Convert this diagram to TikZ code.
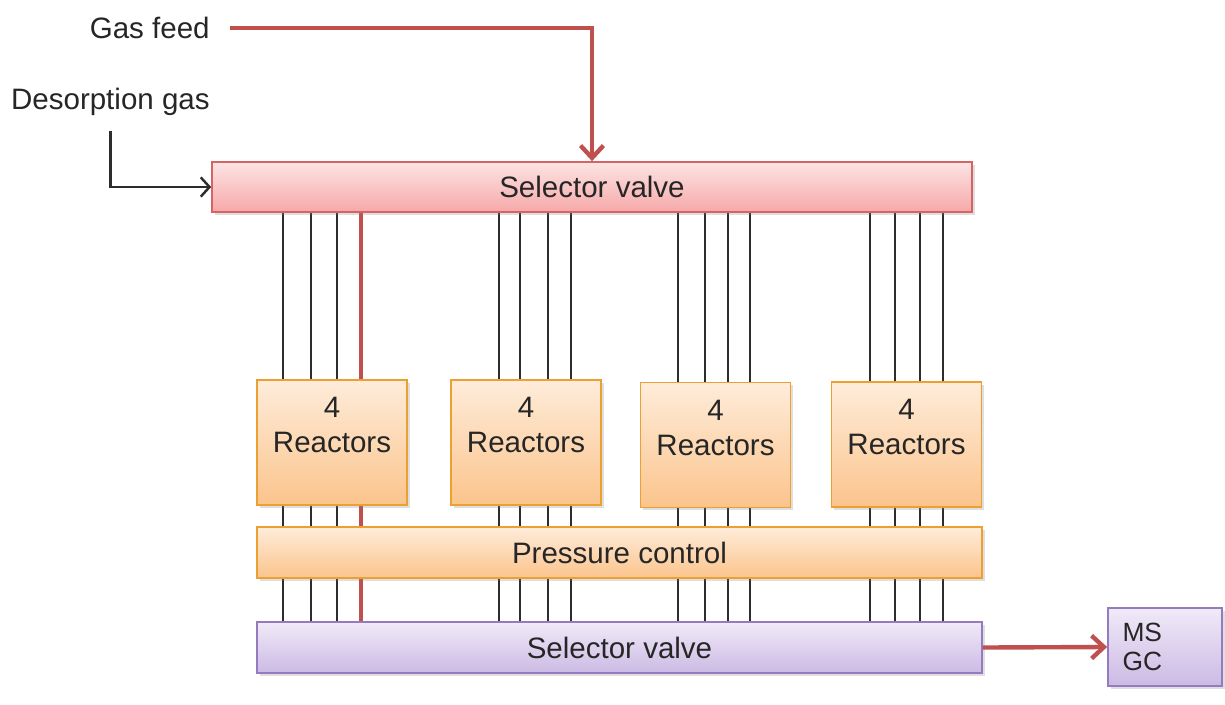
\documentclass[tikz,border=0pt]{standalone}
\usepackage{fontspec}
\setmainfont{Liberation Sans}
\usetikzlibrary{arrows.meta,shadows,backgrounds}
\definecolor{feedred}{RGB}{192,80,77}
\definecolor{pinkline}{RGB}{214,100,100}
\definecolor{pinktop}{RGB}{253,228,228}
\definecolor{pinkbot}{RGB}{246,168,168}
\definecolor{orgline}{RGB}{236,160,50}
\definecolor{orgtop}{RGB}{254,236,218}
\definecolor{orgbot}{RGB}{251,196,140}
\definecolor{purline}{RGB}{150,122,190}
\definecolor{purtop}{RGB}{240,234,248}
\definecolor{purbot}{RGB}{204,186,228}
\definecolor{pipe}{RGB}{45,45,45}

\begin{document}
\begin{tikzpicture}[x=0.02cm,y=-0.02cm]
\tikzstyle{every node}=[font=\fontsize{16.8}{20}\selectfont,text=black!85];
\tikzstyle{box}=[draw,line width=1pt,drop shadow={opacity=0.25,shadow xshift=1.5pt,shadow yshift=-1.5pt}];
\tikzstyle{pinkbox}=[box,draw=pinkline,top color=pinktop,bottom color=pinkbot];
\tikzstyle{orgbox}=[box,draw=orgline,top color=orgtop,bottom color=orgbot];
\tikzstyle{purbox}=[box,draw=purline,top color=purtop,bottom color=purbot];
\tikzstyle{reactor}=[orgbox,minimum width=3cm,minimum height=2.5cm,align=center];
\tikzstyle{redline}=[draw=feedred,line width=2.5pt];
\tikzstyle{thinline}=[draw=pipe,line width=1.1pt];
\useasboundingbox (0,0) rectangle (1225,704);

\node (gas) [anchor=east,inner sep=0] at (210,28) {Gas feed};
\node (des) [anchor=east,inner sep=0] at (210,102) {Desorption gas};

\node (sv1) [pinkbox,minimum width=15.2cm,minimum height=1cm] at (592,187) {Selector valve};
\node (r1) [reactor] at (332,442.5) {4\\Reactors\\\mbox{}};
\node (r2) [reactor] at (526,442.5) {4\\Reactors\\\mbox{}};
\node (r3) [reactor] at (715.5,445) {4\\Reactors\\\mbox{}};
\node (r4) [reactor] at (906.5,444.5) {4\\Reactors\\\mbox{}};
\node (pc) [orgbox,minimum width=14.5cm,minimum height=1.02cm] at (619.5,552.5) {Pressure control};
\node (sv2) [purbox,minimum width=14.5cm,minimum height=1.02cm] at (619.5,647.5) {Selector valve};
\node (ms) [purbox,minimum width=2.28cm,minimum height=1.56cm,text width=1.7cm,align=left,
  font=\fontsize{15}{16.5}\selectfont] at (1165,647) {MS\\GC};

\begin{scope}[on background layer]
\foreach \x in {283,311,337,499,520,548,571,678,705,728,750,870,895,920,943}
  \draw[thinline] (\x,0 |- sv1.south) -- (\x,0 |- sv2.north);
\draw[redline] (361,0 |- sv1.south) -- (361,0 |- sv2.north);
\end{scope}

\draw[redline,-{Straight Barb[length=7pt,width=13pt]},shorten <=0.4cm] (gas.east) -| (sv1.north);
\draw[thinline,line width=1.4pt,-{Straight Barb[length=5pt,width=11pt]},shorten <=0.3cm] (des.south) |- (sv1.west);
\draw[redline,-{Straight Barb[length=7pt,width=13pt]}] (sv2.east) -- (ms.west);
\end{tikzpicture}
\end{document}
